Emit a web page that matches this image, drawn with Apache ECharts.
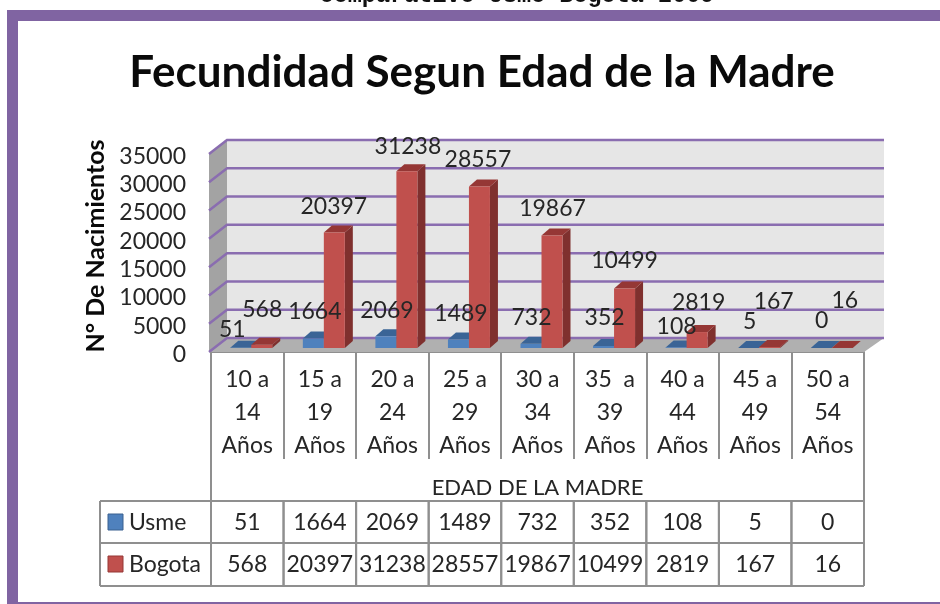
<!DOCTYPE html>
<html><head><meta charset="utf-8">
<style>html,body{margin:0;padding:0;background:#fff}#c{width:940px;height:604px;filter:blur(0.45px)}</style>
<script src="https://cdn.jsdelivr.net/npm/echarts@6/dist/echarts.min.js"></script>
</head><body><div id="c"></div>
<script>
const categories = ['10 a\n14\nAños','15 a\n19\nAños','20 a\n24\nAños','25 a\n29\nAños','30 a\n34\nAños','35  a\n39\nAños','40 a\n44\nAños','45 a\n49\nAños','50 a\n54\nAños'];
const usme   = [51,1664,2069,1489,732,352,108,5,0];
const bogota = [568,20397,31238,28557,19867,10499,2819,167,16];
const yTicks = [0,5000,10000,15000,20000,25000,30000,35000];
const titleText = 'Fecundidad Segun Edad de la Madre';
const topText = 'Comparativo Usme-Bogota 2009';
const yName = 'N° De Nacimientos';
const xName = 'EDAD DE LA MADRE';

// label placement relative to the top of each bar (manual placement in the source)
const usmeNudge   = [[-19,-18],[-9,-27],[-9.5,-26],[-8,-26],[-10,-26],[-9.5,-28],[-10,-21],[-9.5,-26],[-10,-27]];
const bogotaNudge = [[11,-35],[10,-26],[11.5,-25],[9,-27],[11,-27],[10.5,-28],[12,-29],[14.5,-45],[13,-47]];

const FONT='Lato', INK='#262626', LINE='#8f8f8f', PURPLE='#8064a2', GRID='#8a6db0';
const WD=18, HD=-14, BX=4, BY=-4, BARW=21, DX=8, DY=-7;
const FS=23;

function box(x,yTop,yBot,w,front,side,top){
  return [
    {type:'polygon',shape:{points:[[x+w,yTop],[x+w+DX,yTop+DY],[x+w+DX,yBot+DY],[x+w,yBot]]},style:{fill:side}},
    {type:'polygon',shape:{points:[[x,yTop],[x+DX,yTop+DY],[x+w+DX,yTop+DY],[x+w,yTop]]},style:{fill:top}},
    {type:'rect',shape:{x:x,y:yTop,width:w,height:yBot-yTop},style:{fill:front}}
  ];
}
function barSeries(name,vals,dirLeft,front,side,top,z){
  return {name,type:'custom',coordinateSystem:'cartesian2d',z,
    data:vals.map((v,i)=>[i,v]),encode:{x:0,y:1},
    renderItem(p,api){
      const c=api.coord([api.value(0),0]);
      const t=api.coord([api.value(0),api.value(1)]);
      const x=c[0]+BX-(dirLeft?BARW:0);
      return {type:'group',children:box(x,t[1]+BY,c[1]+BY,BARW,front,side,top)};
    }};
}
function labelSeries(vals,nudge,z){
  return {type:'custom',coordinateSystem:'cartesian2d',z,silent:true,
    data:vals.map((v,i)=>[i,v]),encode:{x:0,y:1},
    renderItem(p,api){
      const i=api.value(0);
      const t=api.coord([i,api.value(1)]);
      const n=nudge[i];
      return {type:'text',x:t[0]+BX+n[0],y:t[1]+BY+n[1],
        style:{text:String(vals[i]),font:FS+'px '+FONT,fill:INK,textAlign:'center',textVerticalAlign:'middle'}};
    }};
}
const rowY=[523,565], rowTop=501, rowMid=543, rowBot=586, tableLeft=100;

const option={
  animation:false,
  backgroundColor:'#fff',
  title:{text:titleText,left:477,top:46,textAlign:'center',
    textStyle:{fontFamily:FONT,fontWeight:'bold',fontSize:44,color:'#0a0a0a'}},
  grid:{left:211,right:76,top:154,bottom:252,containLabel:false},
  xAxis:{type:'category',data:categories,boundaryGap:true,
    axisLine:{show:true,lineStyle:{color:LINE,width:2}},
    axisTick:{show:true,length:107,lineStyle:{color:LINE,width:2}},
    axisLabel:{interval:0,margin:11,fontFamily:FONT,fontSize:FS,color:INK,lineHeight:33},
    name:xName,nameLocation:'middle',nameGap:136,
    nameTextStyle:{fontFamily:FONT,fontSize:22,color:INK,verticalAlign:'middle'}},
  yAxis:{type:'value',min:0,max:35000,interval:5000,
    axisLine:{show:false},axisTick:{show:false},splitLine:{show:false},
    axisLabel:{margin:25,formatter:v=>'{t|'+v+'}',
      rich:{t:{fontFamily:FONT,fontSize:FS,color:INK,padding:[5,0,0,0]}}},
    name:yName,nameLocation:'middle',nameRotate:90,nameGap:115,
    nameTextStyle:{fontFamily:FONT,fontWeight:'bold',fontSize:25,color:'#0a0a0a',verticalAlign:'middle',padding:[0,0,0,14]}},
  series:[
    {type:'custom',coordinateSystem:'cartesian2d',z:1,silent:true,data:[[0,0]],encode:{x:0,y:1},
      renderItem(p,api){
        const g=p.coordSys, L=g.x-2, R=g.x+g.width, T=g.y, B=g.y+g.height;
        return {type:'group',children:[
          {type:'polygon',shape:{points:[[L,T],[L+WD,T+HD],[L+WD,B+HD],[L,B]]},style:{fill:'#a3a3a3'}},
          {type:'polygon',shape:{points:[[L+WD,T+HD],[R+20,T+HD],[R+20,B+HD],[L+WD,B+HD]]},style:{fill:'#e6e6e6'}},
          {type:'polygon',shape:{points:[[L,B],[L+WD,B+HD],[R+20,B+HD],[R,B]]},style:{fill:'#b0b0b0'}}
        ]};
      }},
    {type:'custom',coordinateSystem:'cartesian2d',z:2,silent:true,
      data:yTicks.map(v=>[0,v]),encode:{x:0,y:1},
      renderItem(p,api){
        const g=p.coordSys, y=api.coord([0,api.value(1)])[1], L=g.x-2, R=g.x+g.width;
        return {type:'polyline',shape:{points:[[L,y],[L+WD,y+HD],[R+20,y+HD]]},
          style:{fill:null,stroke:GRID,lineWidth:2.5}};
      }},
    barSeries('Usme',usme,true,'#4f81bd','#3b618f','#3a6496',3),
    barSeries('Bogota',bogota,false,'#c0504d','#7f302e','#953735',4),
    labelSeries(usme,usmeNudge,5),
    labelSeries(bogota,bogotaNudge,5),
    {type:'custom',coordinateSystem:'cartesian2d',z:3,silent:true,
      data:categories.map((c,i)=>[i,usme[i],bogota[i]]),encode:{x:0,y:1},
      renderItem(p,api){
        const i=api.value(0), c=api.coord([i,0])[0], bw=api.size([1,0])[0];
        const kids=[0,1].map(r=>({type:'text',x:c,y:rowY[r],
          style:{text:String(api.value(r+1)),font:FS+'px '+FONT,fill:INK,textAlign:'center',textVerticalAlign:'middle'}}));
        kids.push({type:'line',shape:{x1:c-bw/2,y1:rowTop,x2:c-bw/2,y2:rowBot},style:{stroke:LINE,lineWidth:2}});
        kids.push({type:'line',shape:{x1:c+bw/2,y1:rowTop,x2:c+bw/2,y2:rowBot},style:{stroke:LINE,lineWidth:2}});
        if(i===0) kids.push({type:'line',shape:{x1:c-bw/2,y1:352,x2:c-bw/2,y2:rowTop},style:{stroke:LINE,lineWidth:2}});
        if(i===categories.length-1) kids.push({type:'line',shape:{x1:c+bw/2,y1:352,x2:c+bw/2,y2:rowTop},style:{stroke:LINE,lineWidth:2}});
        return {type:'group',children:kids};
      }}
  ],
  graphic:[
    {type:'rect',z:-1,shape:{x:7,y:10,width:933,height:11},style:{fill:PURPLE}},
    {type:'rect',z:-1,shape:{x:7,y:10,width:11,height:594},style:{fill:PURPLE}},
    {type:'rect',z:-1,shape:{x:7,y:602,width:933,height:2},style:{fill:PURPLE}},
    {type:'text',x:517,y:8,style:{text:topText,font:'bold 23.5px "Liberation Mono"',fill:'#111',textAlign:'center',textVerticalAlign:'bottom'}},
    {type:'line',shape:{x1:tableLeft,y1:rowTop,x2:864,y2:rowTop},style:{stroke:LINE,lineWidth:2}},
    {type:'line',shape:{x1:tableLeft,y1:rowMid,x2:864,y2:rowMid},style:{stroke:LINE,lineWidth:2}},
    {type:'line',shape:{x1:tableLeft,y1:rowBot,x2:864,y2:rowBot},style:{stroke:LINE,lineWidth:2}},
    {type:'line',shape:{x1:tableLeft,y1:rowTop,x2:tableLeft,y2:rowBot},style:{stroke:LINE,lineWidth:2}},
    {type:'rect',shape:{x:108,y:514,width:15,height:16},style:{fill:'#4f81bd',stroke:'#3b618f',lineWidth:1}},
    {type:'rect',shape:{x:108,y:556,width:15,height:16},style:{fill:'#c0504d',stroke:'#953735',lineWidth:1}},
    {type:'text',x:129,y:523,style:{text:'Usme',font:FS+'px '+FONT,fill:INK,textAlign:'left',textVerticalAlign:'middle'}},
    {type:'text',x:129,y:565,style:{text:'Bogota',font:FS+'px '+FONT,fill:INK,textAlign:'left',textVerticalAlign:'middle'}}
  ]
};
const chart=echarts.init(document.getElementById('c'),null,{renderer:'canvas'});
chart.setOption(option);
</script></body></html>
